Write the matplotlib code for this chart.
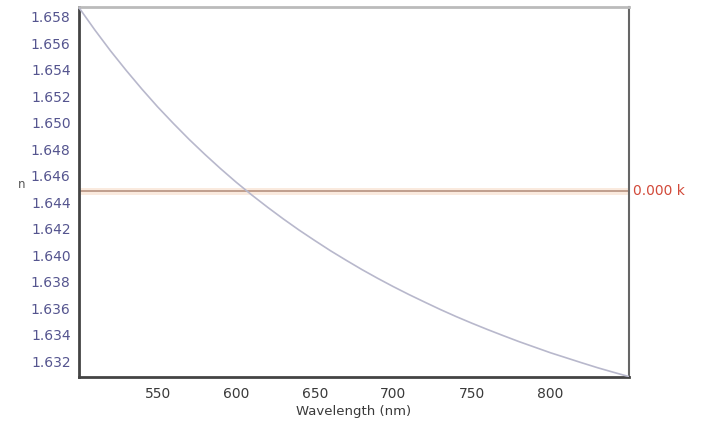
import matplotlib
matplotlib.use("Agg")
import matplotlib.pyplot as plt

wavelength = [500, 510, 520, 530, 540, 550, 560, 570, 580, 590, 600, 610, 620, 630, 640, 650,
              660, 670, 680, 690, 700, 710, 720, 730, 740, 750, 760, 770, 780, 790, 800,
              810, 820, 830, 840, 850]
n_values = [1.65870, 1.65703, 1.65545, 1.65397, 1.65256, 1.65122, 1.64997, 1.64877, 1.64764,
            1.64656, 1.64553, 1.64456, 1.64364, 1.64276, 1.64192, 1.64113, 1.64036, 1.63964,
            1.63894, 1.63828, 1.63765, 1.63705, 1.63648, 1.63592, 1.63539, 1.63489, 1.63441,
            1.63395, 1.63350, 1.63308, 1.63266, 1.63228, 1.63190, 1.63153, 1.63119, 1.63086]
k_level = 1.64487
x_ticks = [550, 600, 650, 700, 750, 800]
y_ticks = [1.632, 1.634, 1.636, 1.638, 1.640, 1.642, 1.644, 1.646, 1.648, 1.650,
           1.652, 1.654, 1.656, 1.658]

plt.rcParams['font.family'] = ['DejaVu Sans']

fig = plt.figure(figsize=(7.07, 4.21), dpi=100)
ax = fig.add_axes([79/707, 1-377/421, 550/707, 370/421])

ax.axhline(k_level, color='#f7dcc8', lw=5, alpha=0.6, zorder=1)
ax.axhline(k_level, color='#b08a78', lw=1.1, zorder=2)
ax.plot(wavelength, n_values, color='#b8b8cc', lw=1.2, zorder=3)

ax.set_xlim(500, 850)
ax.set_ylim(1.63083, 1.65875)
ax.set_xticks(x_ticks)
ax.set_xticklabels([str(t) for t in x_ticks])
ax.set_yticks(y_ticks)
ax.set_yticklabels([f"{t:.3f}" for t in y_ticks])
ax.tick_params(axis='both', length=0, labelsize=10)
ax.tick_params(axis='y', colors='#55558f', pad=6)
ax.tick_params(axis='x', colors='#3a3a3a', pad=7)

for side in ['left', 'bottom']:
    ax.spines[side].set_color('#444444')
    ax.spines[side].set_linewidth(2)
ax.spines['right'].set_color('#666666')
ax.spines['right'].set_linewidth(1.5)
ax.spines['top'].set_color('#bbbbbb')
ax.spines['top'].set_linewidth(2)

ax.set_xlabel('Wavelength (nm)', fontsize=9.5, color='#3a3a3a', labelpad=3)
fig.text(22/707, 1-184/421, 'n', fontsize=8.5, color='#555555', ha='center', va='center')
ax.text(1.008, k_level, '0.000 k', transform=ax.get_yaxis_transform(), fontsize=10,
        color='#d24a3a', ha='left', va='center')

fig.savefig('out.png', dpi=100)
